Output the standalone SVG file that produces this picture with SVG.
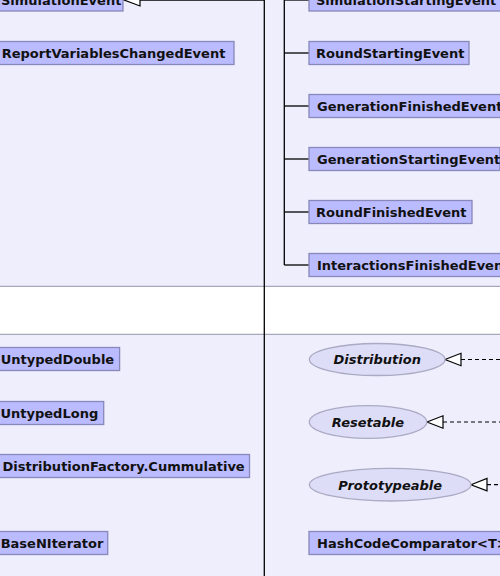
<svg xmlns="http://www.w3.org/2000/svg" width="500" height="576" viewBox="0 0 500 576">
<style>
.bg{fill:#EEEEFC}
.band{fill:#FFFFFF}
.sep{stroke:#A8A8BC;stroke-width:1.3}
.box{fill:#BBBBFF;stroke:#8888BB;stroke-width:1.3}
.ell{fill:#DDDDF8;stroke:#AAAAC4;stroke-width:1.3}
.t{font-family:"DejaVu Sans",sans-serif;font-weight:bold;font-size:13px;fill:#111}
.ti{font-family:"DejaVu Sans",sans-serif;font-weight:bold;font-style:italic;font-size:13px;fill:#111;text-anchor:middle}
.ln{stroke:#000;stroke-width:1.3;fill:none}
.dash{stroke:#000;stroke-width:1.2;fill:none;stroke-dasharray:4,3}
.tri{fill:#fff;stroke:#000;stroke-width:1.2}
</style>
<rect class="bg" x="0" y="0" width="500" height="576"/>
<rect class="band" x="0" y="286" width="500" height="48"/>
<line class="sep" x1="0" y1="286.3" x2="500" y2="286.3"/>
<line class="sep" x1="0" y1="334.3" x2="500" y2="334.3"/>
<g id="connectors">
<line class="ln" x1="264.3" y1="0" x2="264.3" y2="576"/>
<line class="ln" x1="284.3" y1="0" x2="284.3" y2="265"/>
<line class="ln" x1="284.3" y1="0" x2="309" y2="0"/>
<line class="ln" x1="284.3" y1="53" x2="309" y2="53"/>
<line class="ln" x1="284.3" y1="106" x2="309" y2="106"/>
<line class="ln" x1="284.3" y1="159" x2="309" y2="159"/>
<line class="ln" x1="284.3" y1="212" x2="309" y2="212"/>
<line class="ln" x1="284.3" y1="265" x2="309" y2="265"/>
<line class="ln" x1="140" y1="0" x2="264.3" y2="0"/>
<polygon class="tri" points="124,0 140,-6 140,6"/>
<line class="dash" x1="461" y1="359.5" x2="500" y2="359.5"/>
<polygon class="tri" points="445,359.5 461,353.3 461,365.7"/>
<line class="dash" x1="443" y1="422" x2="500" y2="422"/>
<polygon class="tri" points="427,422 443,415.8 443,428.2"/>
<line class="dash" x1="487" y1="484.7" x2="500" y2="484.7"/>
<polygon class="tri" points="471,484.7 487,478.5 487,490.9"/>
</g>
<g id="SimulationEvent"><rect class="box" x="-10" y="-12" width="133" height="23"/><text class="t" x="1" y="5">SimulationEvent</text></g>
<g id="ReportVariablesChangedEvent"><rect class="box" x="-10" y="41.5" width="244" height="23"/><text class="t" x="1.7" y="58">ReportVariablesChangedEvent</text></g>
<g id="SimulationStartingEvent"><rect class="box" x="309" y="-12" width="200" height="23"/><text class="t" x="316" y="5">SimulationStartingEvent</text></g>
<g id="RoundStartingEvent"><rect class="box" x="309" y="41.5" width="160" height="23"/><text class="t" x="316" y="58">RoundStartingEvent</text></g>
<g id="GenerationFinishedEvent"><rect class="box" x="309" y="94.5" width="200" height="23"/><text class="t" x="317" y="111">GenerationFinishedEvent</text></g>
<g id="GenerationStartingEvent"><rect class="box" x="309" y="147.5" width="191" height="23"/><text class="t" x="317" y="164">GenerationStartingEvent</text></g>
<g id="RoundFinishedEvent"><rect class="box" x="309" y="200.5" width="163" height="23"/><text class="t" x="316" y="217">RoundFinishedEvent</text></g>
<g id="InteractionsFinishedEvent"><rect class="box" x="309" y="253.5" width="200" height="23"/><text class="t" x="317" y="270">InteractionsFinishedEvent</text></g>
<g id="UntypedDouble"><rect class="box" x="-10" y="347.5" width="129.6" height="23"/><text class="t" x="0.7" y="364">UntypedDouble</text></g>
<g id="UntypedLong"><rect class="box" x="-10" y="401.5" width="113.7" height="23"/><text class="t" x="0.5" y="418">UntypedLong</text></g>
<g id="DistributionFactory.Cummulative"><rect class="box" x="-10" y="454.5" width="259.5" height="23"/><text class="t" x="2.5" y="471">DistributionFactory.Cummulative</text></g>
<g id="BaseNIterator"><rect class="box" x="-10" y="531.5" width="117.7" height="23"/><text class="t" x="0.7" y="548">BaseNIterator</text></g>
<g id="HashCodeComparator"><rect class="box" x="309" y="531.5" width="200" height="23"/><text class="t" x="317" y="548">HashCodeComparator&lt;T&gt;</text></g>
<g id="Distribution"><ellipse class="ell" cx="377.2" cy="359.5" rx="67.8" ry="16"/><text class="ti" x="377.2" y="364">Distribution</text></g>
<g id="Resetable"><ellipse class="ell" cx="368" cy="422" rx="58.7" ry="16.3"/><text class="ti" x="368" y="427">Resetable</text></g>
<g id="Prototypeable"><ellipse class="ell" cx="390.2" cy="484.7" rx="80.8" ry="16.3"/><text class="ti" x="390.2" y="489.5">Prototypeable</text></g>
</svg>
